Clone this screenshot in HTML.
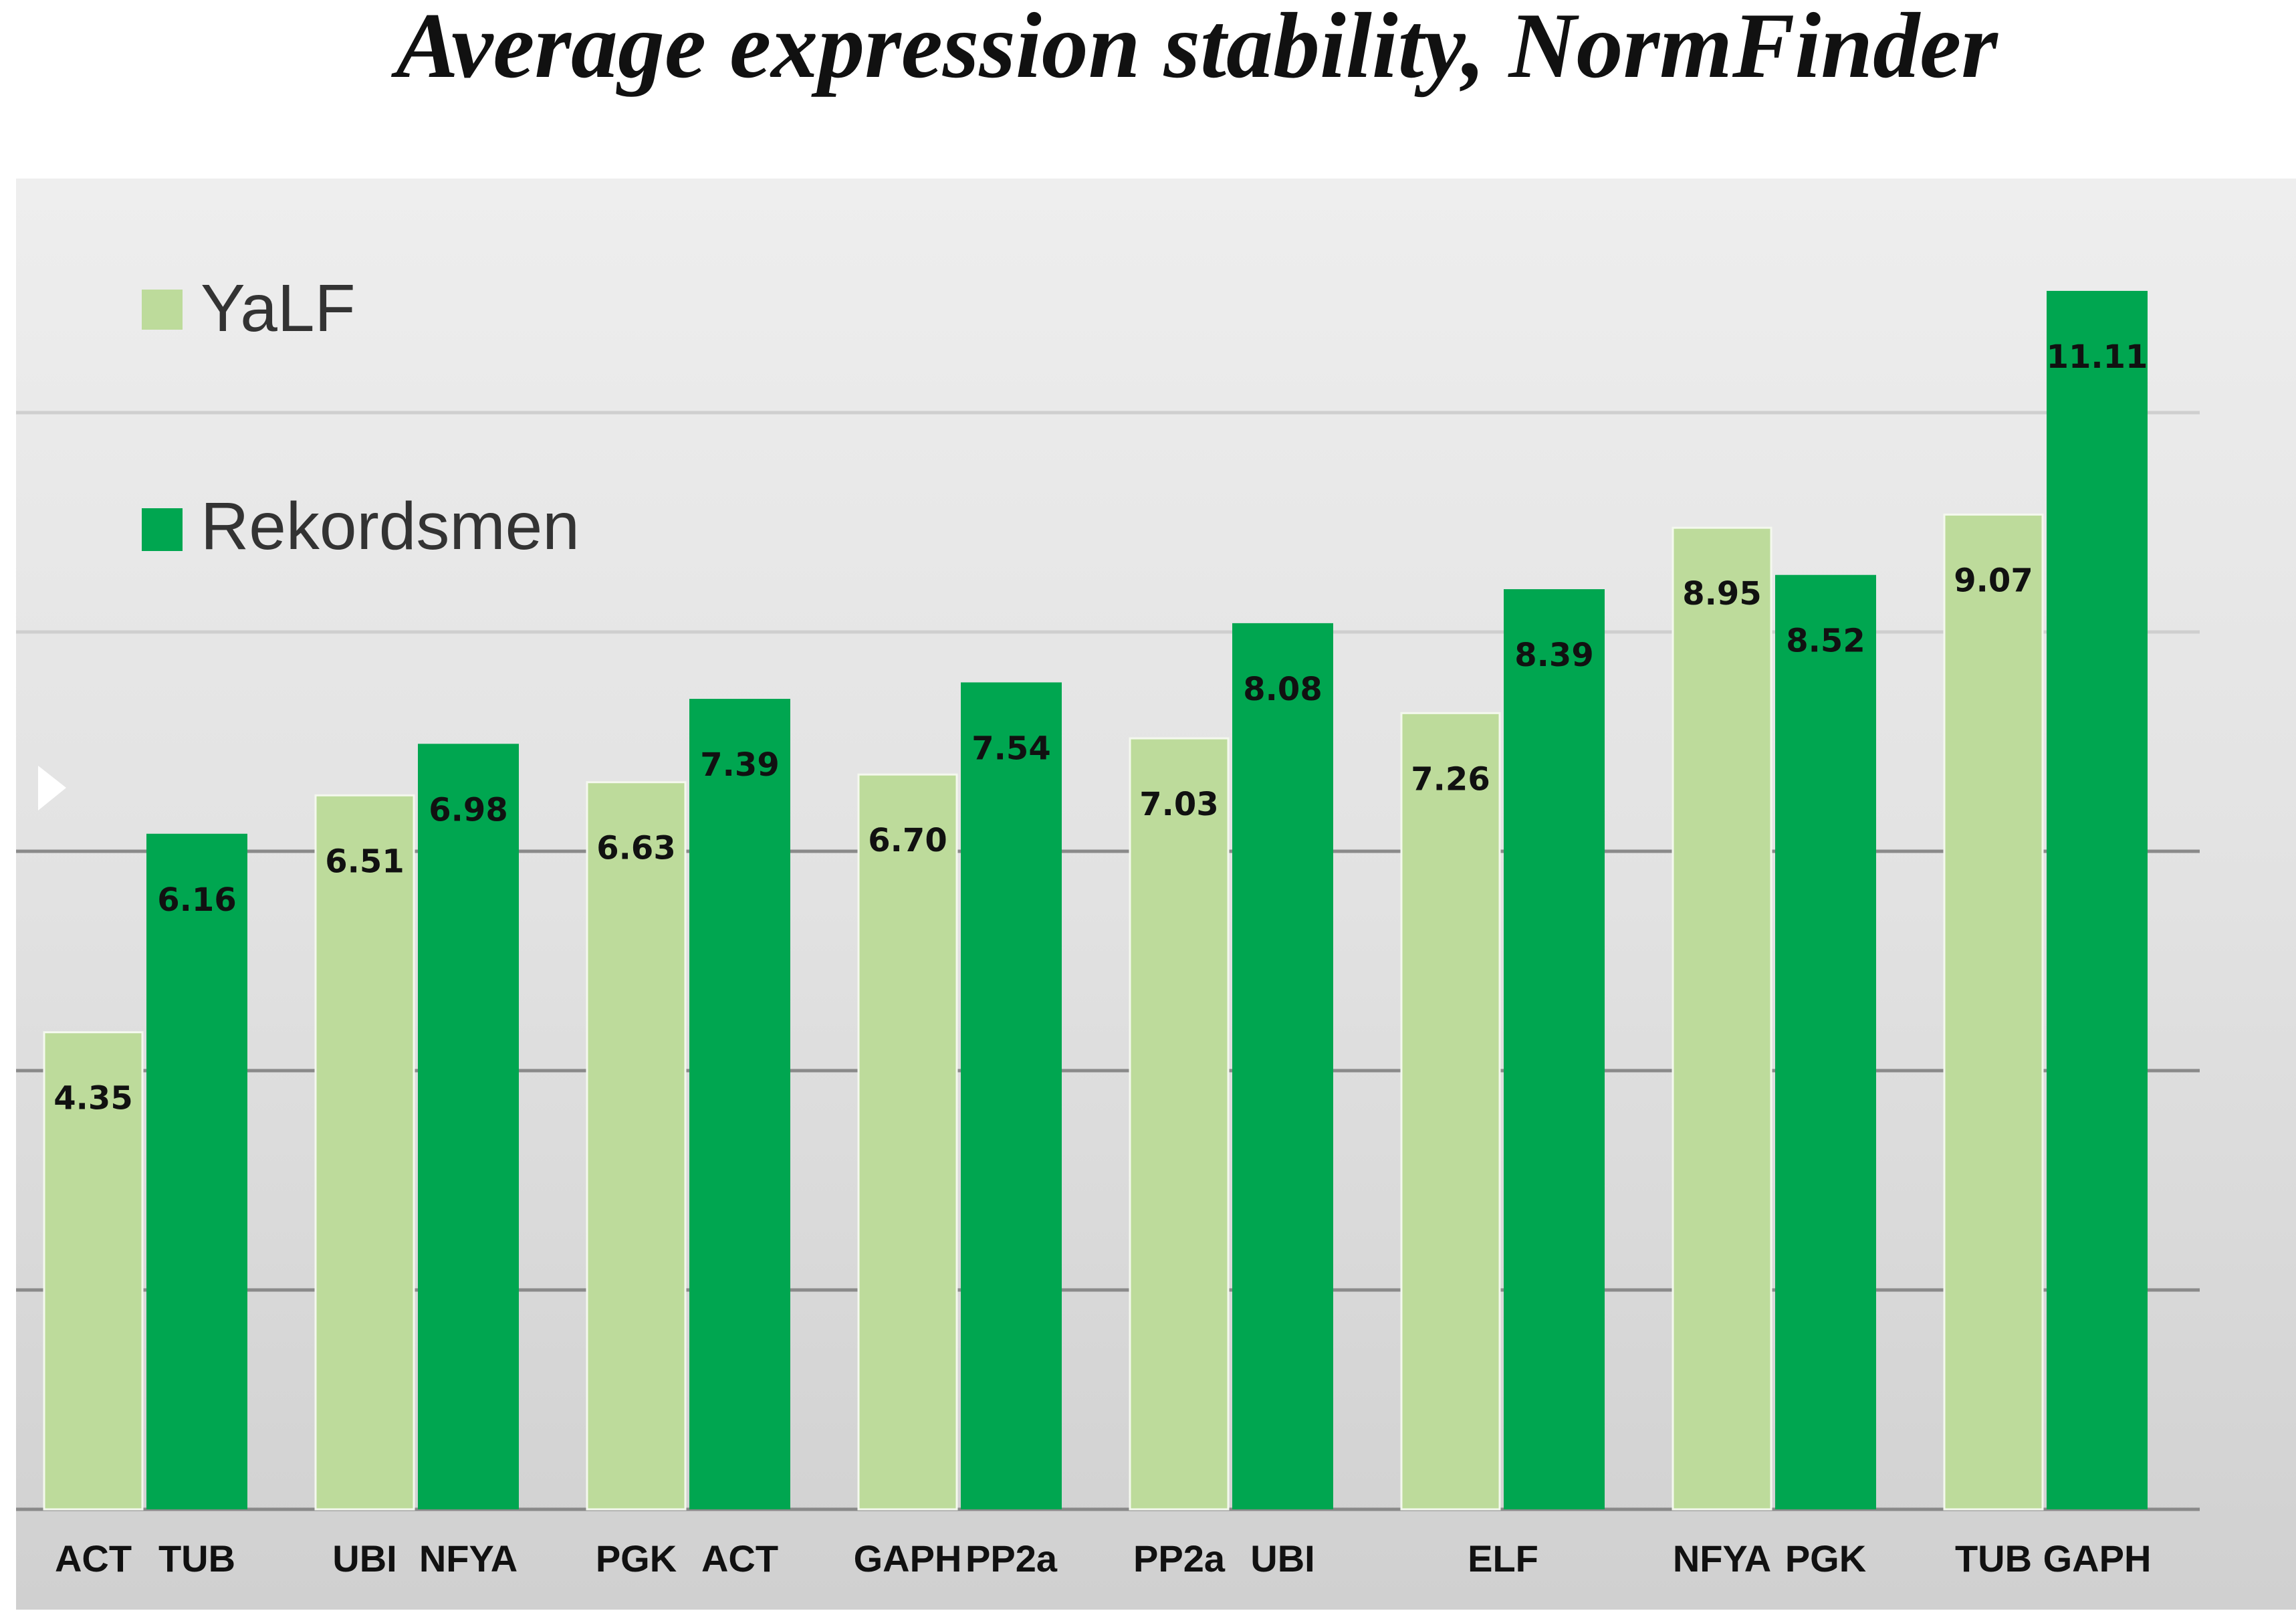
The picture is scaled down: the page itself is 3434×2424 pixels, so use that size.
<!DOCTYPE html>
<html><head><meta charset="utf-8"><style>
body{margin:0;background:#fff;}
svg{display:block;}
</style></head><body>
<svg id="chart" width="3434" height="2424" xmlns="http://www.w3.org/2000/svg">
<defs>
<linearGradient id="bg" x1="0" y1="0" x2="0" y2="1">
<stop offset="0" stop-color="#eeeeee"/><stop offset="0.5" stop-color="#e2e2e2"/><stop offset="1" stop-color="#d0d0d0"/>
</linearGradient>
</defs>
<text x="1790" y="115" text-anchor="middle" font-family="Liberation Serif, serif" font-style="italic" font-weight="bold" font-size="140" fill="#111">Average expression stability, NormFinder</text>
<rect x="24" y="267" width="3410" height="2140" fill="url(#bg)"/>
<g id="grid"></g>
<g id="bars"></g>
<g id="labels"></g>
<polygon points="57,1145 99,1178 57,1212" fill="#fff"/>
<rect x="212" y="433" width="61" height="60" fill="#bddb9b"/>
<text x="300" y="495" font-family="Liberation Sans, sans-serif" font-size="100" fill="#333">YaLF</text>
<rect x="212" y="760" width="61" height="64" fill="#00a650"/>
<text x="300" y="821" font-family="Liberation Sans, sans-serif" font-size="100" fill="#333">Rekordsmen</text>
</svg>
<script>
const yalfGenes = ["ACT","UBI","PGK","GAPH","PP2a","ELF","NFYA","TUB"];
const rekGenes = ["TUB","NFYA","ACT","PP2a","UBI","","PGK","GAPH"];
const yalfValues = [4.35,6.51,6.63,6.70,7.03,7.26,8.95,9.07];
const rekValues = [6.16,6.98,7.39,7.54,8.08,8.39,8.52,11.11];
const yalfLabels = ["4.35","6.51","6.63","6.70","7.03","7.26","8.95","9.07"];
const rekLabels = ["6.16","6.98","7.39","7.54","8.08","8.39","8.52","11.11"];
const groupLabels = ["","","","","","ELF","",""];
const gridTicks = [0,2,4,6,8,10];

const NS="http://www.w3.org/2000/svg";
const baseY=2257, pxPerUnit=164, x0=66, groupStep=406, lightW=147, darkW=151, darkOff=153;
function y(v){return baseY - v*pxPerUnit;}
function gx(i){return x0 + i*groupStep;}
function mk(tag,attrs,parent){const e=document.createElementNS(NS,tag);for(const k in attrs)e.setAttribute(k,attrs[k]);parent.appendChild(e);return e;}
const grid=document.getElementById('grid'), bars=document.getElementById('bars'), labels=document.getElementById('labels');
gridTicks.forEach(t=>{
  const l=mk('line',{x1:24,x2:3290,y1:y(t),y2:y(t),stroke:t>=8?'#cfcfcf':'#8a8a8a','stroke-width':5},grid);
  
  
});
const font='DejaVu Sans, sans-serif';
yalfValues.forEach((v,i)=>{
  const r=mk('rect',{x:gx(i),y:y(v),width:lightW,height:v*pxPerUnit,fill:'#bddb9b',stroke:'#f4f8ee','stroke-width':3},bars);
  
  
  const t=mk('text',{x:gx(i)+lightW/2,y:y(v)+115,'text-anchor':'middle','font-family':font,'font-weight':'bold','font-size':48,fill:'#111'},labels);
  t.textContent=yalfLabels[i];
  
  
});
rekValues.forEach((v,i)=>{
  const r=mk('rect',{x:gx(i)+darkOff,y:y(v),width:darkW,height:v*pxPerUnit,fill:'#00a650'},bars);
  
  
  const t=mk('text',{x:gx(i)+darkOff+darkW/2,y:y(v)+115,'text-anchor':'middle','font-family':font,'font-weight':'bold','font-size':48,fill:'#111'},labels);
  t.textContent=rekLabels[i];
  
  
});
for(let i=0;i<yalfGenes.length;i++){
  const pairs = groupLabels[i] ? [[groupLabels[i], gx(i)+(darkOff+darkW)/2]] :
    [[yalfGenes[i], gx(i)+lightW/2],[rekGenes[i], gx(i)+darkOff+darkW/2]];
  pairs.forEach(p=>{
    const t=mk('text',{x:p[1],y:2350,'text-anchor':'middle','font-family':'Liberation Sans, sans-serif','font-weight':'bold','font-size':56,fill:'#111'},labels);
    t.textContent=p[0];
    
    
  });
}
</script>
</body></html>
